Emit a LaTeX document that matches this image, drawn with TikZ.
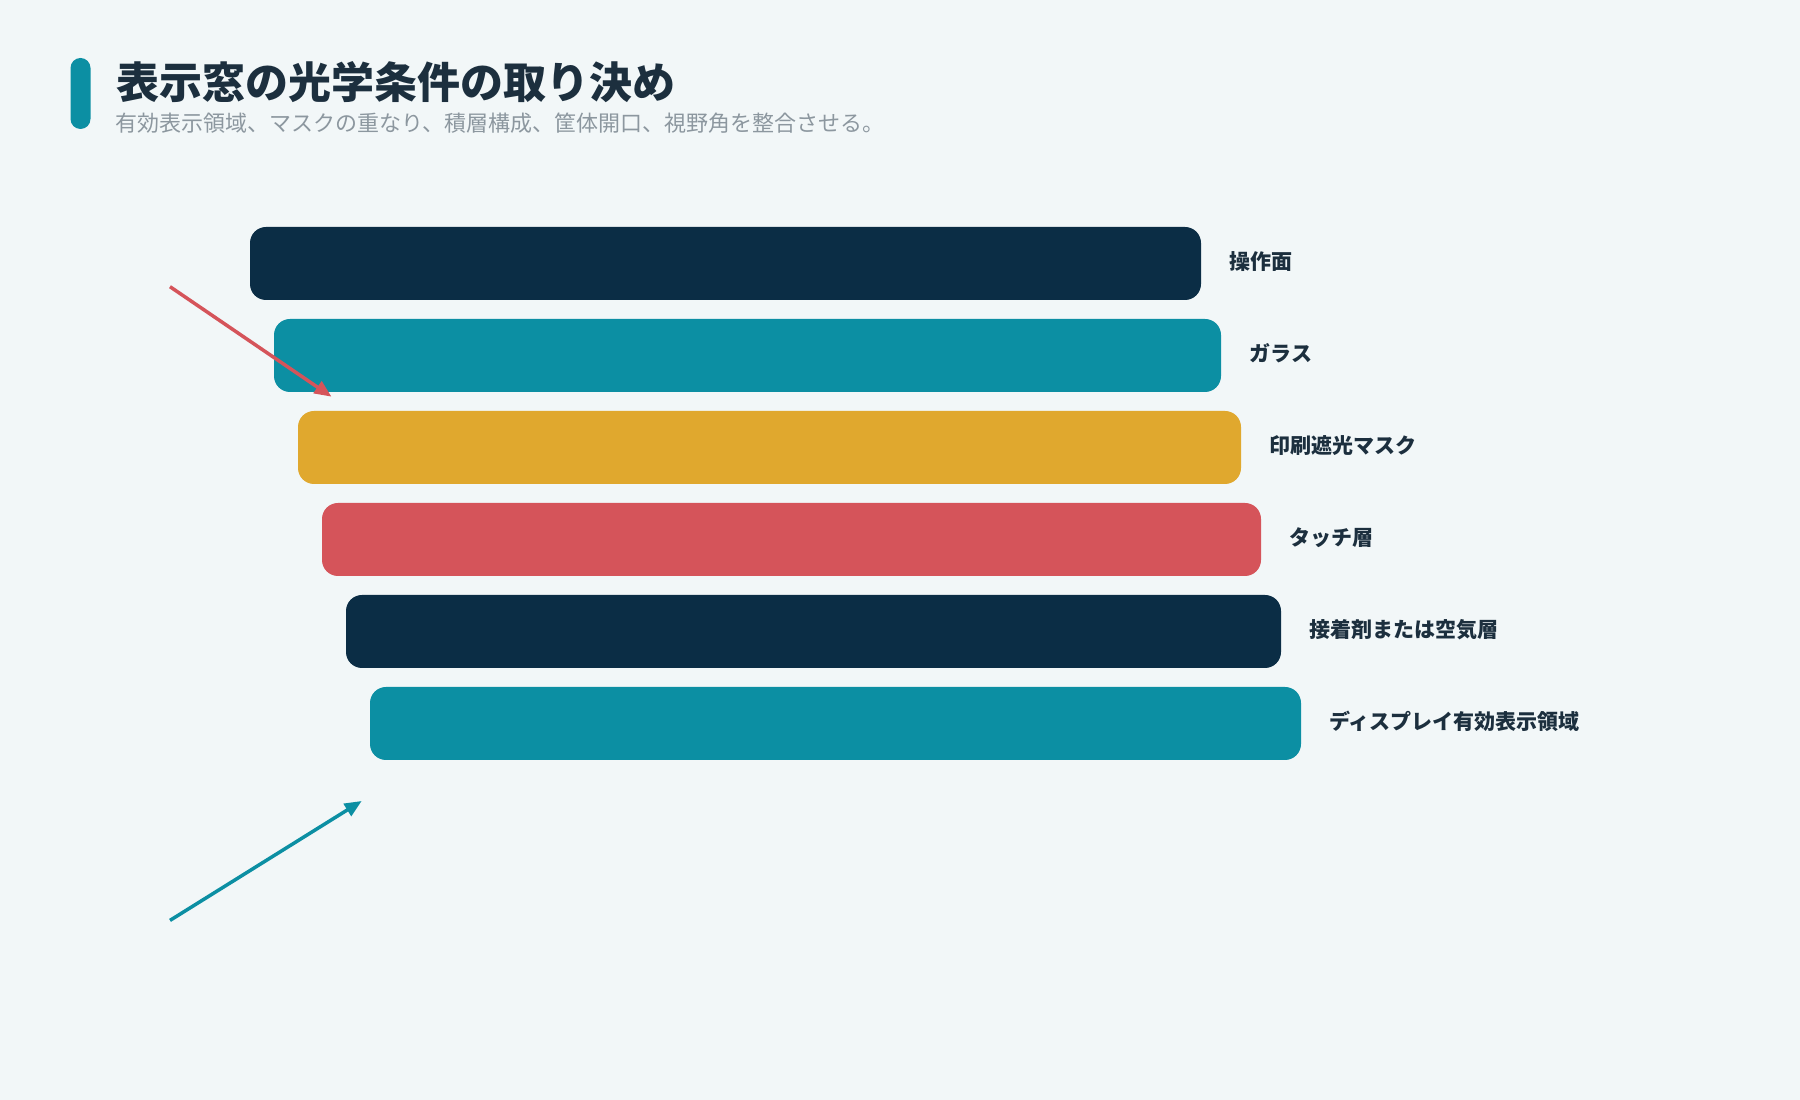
\documentclass[tikz,border=0pt]{standalone}
\usepackage{fontspec}
\setmainfont{Noto Sans CJK JP}
\usepackage{tikz}
\usetikzlibrary{arrows.meta,positioning}
\definecolor{paper}{HTML}{F2F7F8}
\definecolor{inkNavy}{HTML}{0B2D45}
\definecolor{glassTeal}{HTML}{0C8FA3}
\definecolor{maskGold}{HTML}{E0A82E}
\definecolor{touchRed}{HTML}{D5545A}
\definecolor{titleInk}{HTML}{1C2F3E}
\definecolor{subInk}{HTML}{8C979F}
\tikzstyle{layer} = [rectangle, rounded corners=16pt, minimum height=73pt, inner sep=0pt]
\tikzstyle{tag} = [font=\fontsize{21}{25}\selectfont\bfseries, text=titleInk, inner sep=0pt]
\tikzstyle{pointer} = [line width=3.5pt, -{Triangle[length=17pt,width=14pt]}]

\begin{document}
\begin{tikzpicture}[x=1pt, y=1pt, node distance=92pt]
    \fill [paper] (0,0) rectangle (1800,1100);
    \useasboundingbox (0,0) rectangle (1800,1100);

    % Title
    \node [fill=glassTeal, rounded corners=10pt, minimum width=20pt, minimum height=71pt, inner sep=0pt] (titleBar) at (80.5,1006.5) {};
    \node [anchor=base west, inner sep=0pt, text=titleInk, font=\fontsize{43}{49}\selectfont\bfseries] (title) at (116,1001) {表示窓の光学条件の取り決め};
    \node [anchor=base west, inner sep=0pt, text=subInk, font=\fontsize{22}{26}\selectfont] (subtitle) at (115,968.5) {有効表示領域、マスクの重なり、積層構成、筐体開口、視野角を整合させる。};

    % Place nodes
    \node [layer, fill=inkNavy, minimum width=951pt] (surface) at (725.5,836.5) {};
    \node [layer, fill=glassTeal, minimum width=947pt, below of=surface, xshift=22pt] (glass) {};
    \node [layer, fill=maskGold, minimum width=943pt, below of=glass, xshift=22pt] (mask) {};
    \node [layer, fill=touchRed, minimum width=939pt, below of=mask, xshift=22pt] (touch) {};
    \node [layer, fill=inkNavy, minimum width=935pt, below of=touch, xshift=22pt] (bond) {};
    \node [layer, fill=glassTeal, minimum width=931pt, below of=bond, xshift=22pt] (display) {};

    % Labels
    \node [tag, right=28pt of surface, yshift=2pt] (surfaceTag) {操作面};
    \node [tag, right=28pt of glass, yshift=2pt] (glassTag) {ガラス};
    \node [tag, right=28pt of mask, yshift=2pt] (maskTag) {印刷遮光マスク};
    \node [tag, right=28pt of touch, yshift=2pt] (touchTag) {タッチ層};
    \node [tag, right=28pt of bond, yshift=2pt] (bondTag) {接着剤または空気層};
    \node [tag, right=28pt of display, yshift=2pt] (displayTag) {ディスプレイ有効表示領域};

    % Draw edges
    \coordinate (eyeTop) at (170,813.3);
    \coordinate (maskEdge) at (331.5,703.3);
    \coordinate (eyeLow) at (170,179.6);
    \coordinate (activeEdge) at (361.7,299);
    \draw [pointer, touchRed] (eyeTop) -- (maskEdge);
    \draw [pointer, glassTeal] (eyeLow) -- (activeEdge);
\end{tikzpicture}
\end{document}
